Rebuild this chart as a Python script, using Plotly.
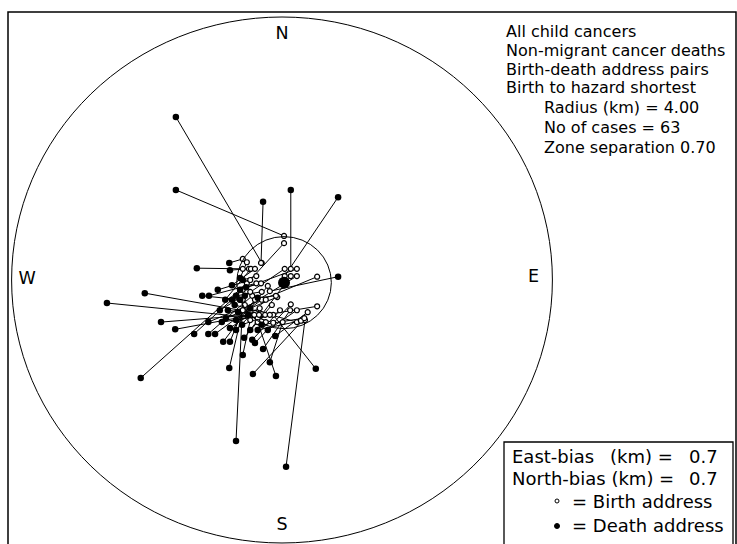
import plotly.graph_objects as go

# ---- data (km relative to the hazard) ----
death_x = [-1.57, -1.57, -0.28, 0.13, 0.83, 0.83, -1.26, -0.78, -0.77, -2.03,
           -2.59, -1.18, -1.08, -1.79, -1.58, -2.09, -1.30, -1.09, -0.99, -0.87,
           -0.77, -0.78, -0.58, -0.43, -0.18, -0.09, 0.50, -0.68, 0.06, -0.40,
           -0.28, -0.10, -0.89, -1.09, -0.74, -0.62, -0.55, -0.65, -0.47, -0.68,
           -0.80, -0.59, -0.50, -0.70, -0.84, -0.74, -0.62, -0.53, -0.83, -0.36,
           -0.30, -0.68, -0.56, -0.77, -0.44, -0.21, -0.92, -0.47, -0.68, -0.58,
           -0.36, -0.95, -0.62]
death_y = [2.48, 1.37, 1.19, 1.37, 1.26, 0.05, 0.18, 0.26, 0.15, -0.20,
           -0.35, -0.24, -0.24, -0.64, -0.75, -1.49, -0.82, -0.82, -0.82, -0.94,
           -0.94, -1.34, -1.14, -1.43, -1.25, -1.46, -1.35, -2.45, -2.84, -0.96,
           -1.05, -0.85, -0.64, -0.64, -0.30, -0.15, -0.24, -0.49, -0.76, -0.61,
           -0.46, -0.68, -0.53, -0.38, -0.30, -0.08, 0.03, -0.11, -0.58, -0.76,
           -0.68, -0.76, -0.88, -0.73, -0.91, -0.76, -0.46, -0.43, -0.24, 0.00,
           -0.27, -0.15, -0.30]
birth_x = [-0.30, 0.03, -0.31, 0.13, 0.04, -0.18, -0.58, -0.58, -0.49, -0.40,
           -0.36, -0.62, -0.38, -0.30, -0.41, -0.52, -0.58, -0.44, -0.30, -0.40,
           -0.55, -0.58, -0.47, 0.31, 0.01, -0.36, -0.13, -0.58, 0.34, 0.13,
           0.12, 0.38, 0.52, 0.52, 0.03, 0.22, 0.04, 0.22, 0.13, -0.25,
           -0.34, -0.18, -0.13, 0.22, -0.46, -0.40, -0.52, -0.31, -0.07, 0.28,
           0.33, -0.24, -0.15, -0.33, -0.03, 0.22, -0.47, -0.21, -0.30, -0.38,
           -0.09, -0.47, -0.24]
birth_y = [0.26, 0.67, 0.26, 0.17, 0.06, -0.17, 0.17, 0.32, 0.17, -0.50,
           -0.58, -0.30, -0.05, -0.52, -0.53, -0.05, -0.15, -0.24, -0.30, -0.30,
           -0.38, -0.46, -0.61, -0.61, -0.64, -0.64, -0.53, -0.30, -0.61, -0.37,
           -0.46, -0.49, -0.40, 0.05, 0.56, 0.17, 0.17, 0.06, 0.06, -0.53,
           -0.53, -0.53, -0.65, -0.64, 0.17, 0.17, 0.27, -0.05, -0.26, -0.62,
           -0.58, -0.30, -0.38, -0.43, -0.46, -0.46, -0.18, -0.09, -0.18, 0.06,
           -0.24, 0.00, -0.64]
hazard_x = [0.03]
hazard_y = [-0.04]
radius_km = 4.0
zone_km = 0.70
compass = ["N", "E", "S", "W"]
compass_x = [0.0, 3.72, 0.0, -3.77]
compass_y = [3.73, 0.03, -3.74, 0.0]
info_lines = ["All child cancers", "Non-migrant cancer deaths",
              "Birth-death address pairs", "Birth to hazard shortest"]
info_lines2 = ["Radius (km) = 4.00", "No of cases = 63", "Zone separation 0.70"]
east_bias = "0.7"
north_bias = "0.7"

W, H = 737, 544
FONT = "DejaVu Sans, sans-serif"
FS_TOP = 16.0
FS_BOX = 18.0

def px(x):
    return x / W

def py(y):
    return 1 - y / H

# pair lines
lx, ly = [], []
for bx, by, dx, dy in zip(birth_x, birth_y, death_x, death_y):
    lx += [bx, dx, None]
    ly += [by, dy, None]

fig = go.Figure()
fig.add_trace(go.Scatter(x=lx, y=ly, mode="lines",
                         line=dict(color="black", width=1), hoverinfo="skip"))
fig.add_trace(go.Scatter(x=birth_x, y=birth_y, mode="markers",
                         marker=dict(symbol="circle", size=5, color="white",
                                     line=dict(color="black", width=1.2))))
fig.add_trace(go.Scatter(x=death_x, y=death_y, mode="markers",
                         marker=dict(symbol="circle", size=6.5, color="black")))
fig.add_trace(go.Scatter(x=hazard_x, y=hazard_y, mode="markers",
                         marker=dict(symbol="circle", size=12, color="black")))
fig.add_trace(go.Scatter(x=compass_x, y=compass_y, mode="text", text=compass,
                         textfont=dict(family=FONT, size=17.5, color="black")))

shapes = [
    dict(type="circle", xref="x", yref="y", x0=-radius_km, x1=radius_km,
         y0=-radius_km, y1=radius_km, line=dict(color="black", width=1)),
    dict(type="circle", xref="x", yref="y",
         x0=hazard_x[0] - zone_km, x1=hazard_x[0] + zone_km,
         y0=hazard_y[0] - zone_km, y1=hazard_y[0] + zone_km,
         line=dict(color="black", width=1)),
    # frame
    dict(type="rect", xref="paper", yref="paper", x0=px(8), x1=px(736),
         y0=py(550), y1=py(12), line=dict(color="black", width=1.5)),
    # legend box
    dict(type="rect", xref="paper", yref="paper", x0=px(504), x1=px(733),
         y0=py(550), y1=py(442), line=dict(color="black", width=1.3),
         fillcolor="white", layer="above"),
    dict(type="circle", xref="paper", yref="paper", x0=px(555), x1=px(559),
         y0=py(503), y1=py(499), line=dict(color="black", width=1),
         fillcolor="white", layer="above"),
    dict(type="circle", xref="paper", yref="paper", x0=px(554.5), x1=px(559.5),
         y0=py(528.5), y1=py(523.5), line=dict(color="black", width=1),
         fillcolor="black", layer="above"),
]

ann = []
for i, t in enumerate(info_lines):
    ann.append(dict(x=px(504), y=py(31 + 19 * i), text=t, size=FS_TOP))
for i, t in enumerate(info_lines2):
    ann.append(dict(x=px(542), y=py(108 + 19.5 * i), text=t, size=FS_TOP))
ann.append(dict(x=px(510), y=py(456), text="East-bias", size=FS_BOX))
ann.append(dict(x=px(675), y=py(456), text="(km) =", xanchor="right", size=FS_BOX))
ann.append(dict(x=px(510), y=py(478), text="North-bias (km) =", size=FS_BOX))
ann.append(dict(x=px(720), y=py(456), text=east_bias, xanchor="right", size=FS_BOX))
ann.append(dict(x=px(720), y=py(478), text=north_bias, xanchor="right", size=FS_BOX))
ann.append(dict(x=px(570), y=py(501), text="= Birth address", size=FS_BOX))
ann.append(dict(x=px(570), y=py(525), text="= Death address", size=FS_BOX))
for a in ann:
    a.setdefault("xanchor", "left")
    s = a.pop("size")
    a.update(xref="paper", yref="paper", yanchor="middle", showarrow=False,
             font=dict(family=FONT, size=s, color="black"))

fig.update_layout(
    width=W, height=H, margin=dict(l=0, r=0, t=0, b=0),
    paper_bgcolor="white", plot_bgcolor="white", showlegend=False,
    shapes=shapes, annotations=ann,
    xaxis=dict(range=[-282 / 67.6, 455 / 67.6], visible=False, fixedrange=True),
    yaxis=dict(range=[(280 - 544) / 65.75, 280 / 65.75], visible=False, fixedrange=True),
)
fig.write_html(
    "out.html",
    config={"displayModeBar": False},
    post_script="document.body.style.margin='0';document.body.style.overflow='hidden';",
)
